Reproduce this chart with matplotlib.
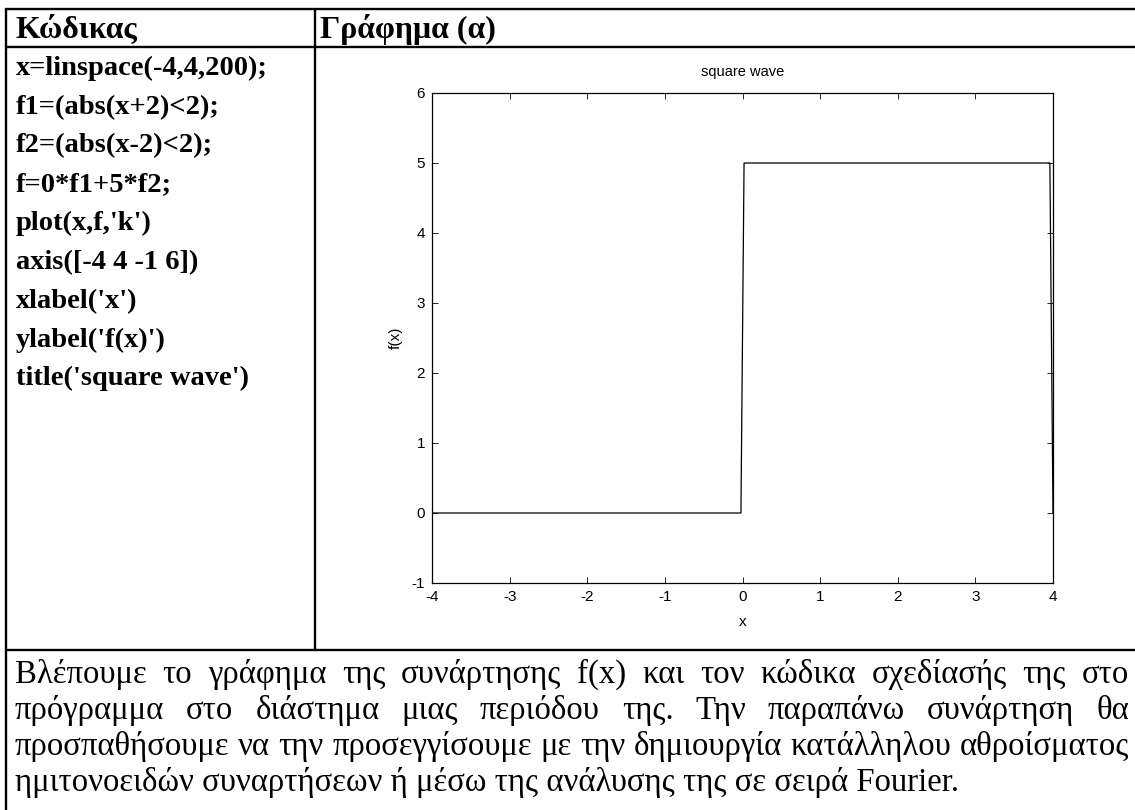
import matplotlib
matplotlib.use("Agg")
import matplotlib.pyplot as plt
from matplotlib.lines import Line2D

W, H = 1135, 810

# ---- data ----
header_left = "Κώδικας"
header_right = "Γράφημα (α)"
code_lines = [
    "x=linspace(-4,4,200);",
    "f1=(abs(x+2)<2);",
    "f2=(abs(x-2)<2);",
    "f=0*f1+5*f2;",
    "plot(x,f,'k')",
    "axis([-4 4 -1 6])",
    "xlabel('x')",
    "ylabel('f(x)')",
    "title('square wave')",
]
wave_x = [-4.0, -0.0201, 0.0201, 3.9598, 4.0]
wave_y = [0, 0, 5, 5, 0]
x_ticks = [-4, -3, -2, -1, 0, 1, 2, 3, 4]
y_ticks = [-1, 0, 1, 2, 3, 4, 5, 6]
para_lines = [
    "Βλέπουμε το γράφημα της συνάρτησης f(x) και τον κώδικα σχεδίασής της στο",
    "πρόγραμμα στο διάστημα μιας περιόδου της. Την παραπάνω συνάρτηση θα",
    "προσπαθήσουμε να την προσεγγίσουμε με την δημιουργία κατάλληλου αθροίσματος",
    "ημιτονοειδών συναρτήσεων ή μέσω της ανάλυσης της σε σειρά Fourier.",
]

fig = plt.figure(figsize=(W / 100, H / 100), dpi=100)
fig.patch.set_facecolor("white")


def fx(px):
    return px / W


def fy(py):
    return 1 - py / H


SERIF = "Liberation Serif"
SANS = "Liberation Sans"

# ---- table lines ----
tlw = 1.7
for (x0, y0, x1, y1) in [(5, 9, 1135, 9), (5, 47, 1135, 47), (5, 650, 1135, 650),
                         (6, 8, 6, 810), (315, 8, 315, 650)]:
    fig.add_artist(Line2D([fx(x0), fx(x1)], [fy(y0), fy(y1)], color="black",
                          lw=tlw, transform=fig.transFigure, solid_capstyle="butt"))

renderer = fig.canvas.get_renderer()


def width_of(s, size, weight="normal", family=SERIF):
    t = fig.text(0, 0, s, fontsize=size, fontweight=weight, family=family)
    w = t.get_window_extent(renderer).width
    t.remove()
    return w


def fit_size(s, target, weight="normal", family=SERIF):
    w10 = width_of(s, 10, weight, family)
    return 10 * target / w10


# ---- headers ----
hsize = fit_size(header_left, 122, "bold")
fig.text(fx(16), fy(38), header_left, fontsize=hsize, fontweight="bold",
         family=SERIF, va="baseline", ha="left")
fig.text(fx(320), fy(38), header_right, fontsize=hsize, fontweight="bold",
         family=SERIF, va="baseline", ha="left")

# ---- code column ----
csize = fit_size(code_lines[0], 252, "bold")
for i, line in enumerate(code_lines):
    fig.text(fx(16), fy(75 + i * 38.8), line, fontsize=csize, fontweight="bold",
             family=SERIF, va="baseline", ha="left")

# ---- plot ----
ax = fig.add_axes([fx(432), fy(583), fx(1053) - fx(432), (583 - 93) / H])
ax.plot(wave_x, wave_y, color="black", lw=0.9)
ax.set_xlim(-4, 4)
ax.set_ylim(-1, 6)
ax.set_xticks(x_ticks)
ax.set_yticks(y_ticks)
ax.set_xticklabels([str(v) for v in x_ticks])
ax.set_yticklabels([str(v) for v in y_ticks])
ax.tick_params(direction="in", length=4, width=0.6, top=True, right=True,
               labelsize=11, pad=5)
for lab in ax.get_xticklabels() + ax.get_yticklabels():
    lab.set_family(SANS)
for sp in ax.spines.values():
    sp.set_linewidth(0.9)
ax.set_title("square wave", fontsize=10.5, family=SANS, pad=12.5)
ax.set_xlabel("x", fontsize=11, family=SANS, labelpad=8)
ax.set_ylabel("f(x)", fontsize=11, family=SANS, labelpad=6)

# ---- paragraph (justified) ----
left, right = 15, 1129
psize = fit_size(para_lines[2], right - left - 4)
baselines = [683, 719, 755, 791]
for li, line in enumerate(para_lines):
    words = line.split(" ")
    if li < len(para_lines) - 1:
        widths = [width_of(w_, psize) for w_ in words]
        gap = (right - left - sum(widths)) / (len(words) - 1)
        x = left
        for w_, ww in zip(words, widths):
            fig.text(fx(x), fy(baselines[li]), w_, fontsize=psize, family=SERIF,
                     va="baseline", ha="left")
            x += ww + gap
    else:
        fig.text(fx(left), fy(baselines[li]), line, fontsize=psize, family=SERIF,
                 va="baseline", ha="left")

fig.savefig("out.png", dpi=100, facecolor="white")
